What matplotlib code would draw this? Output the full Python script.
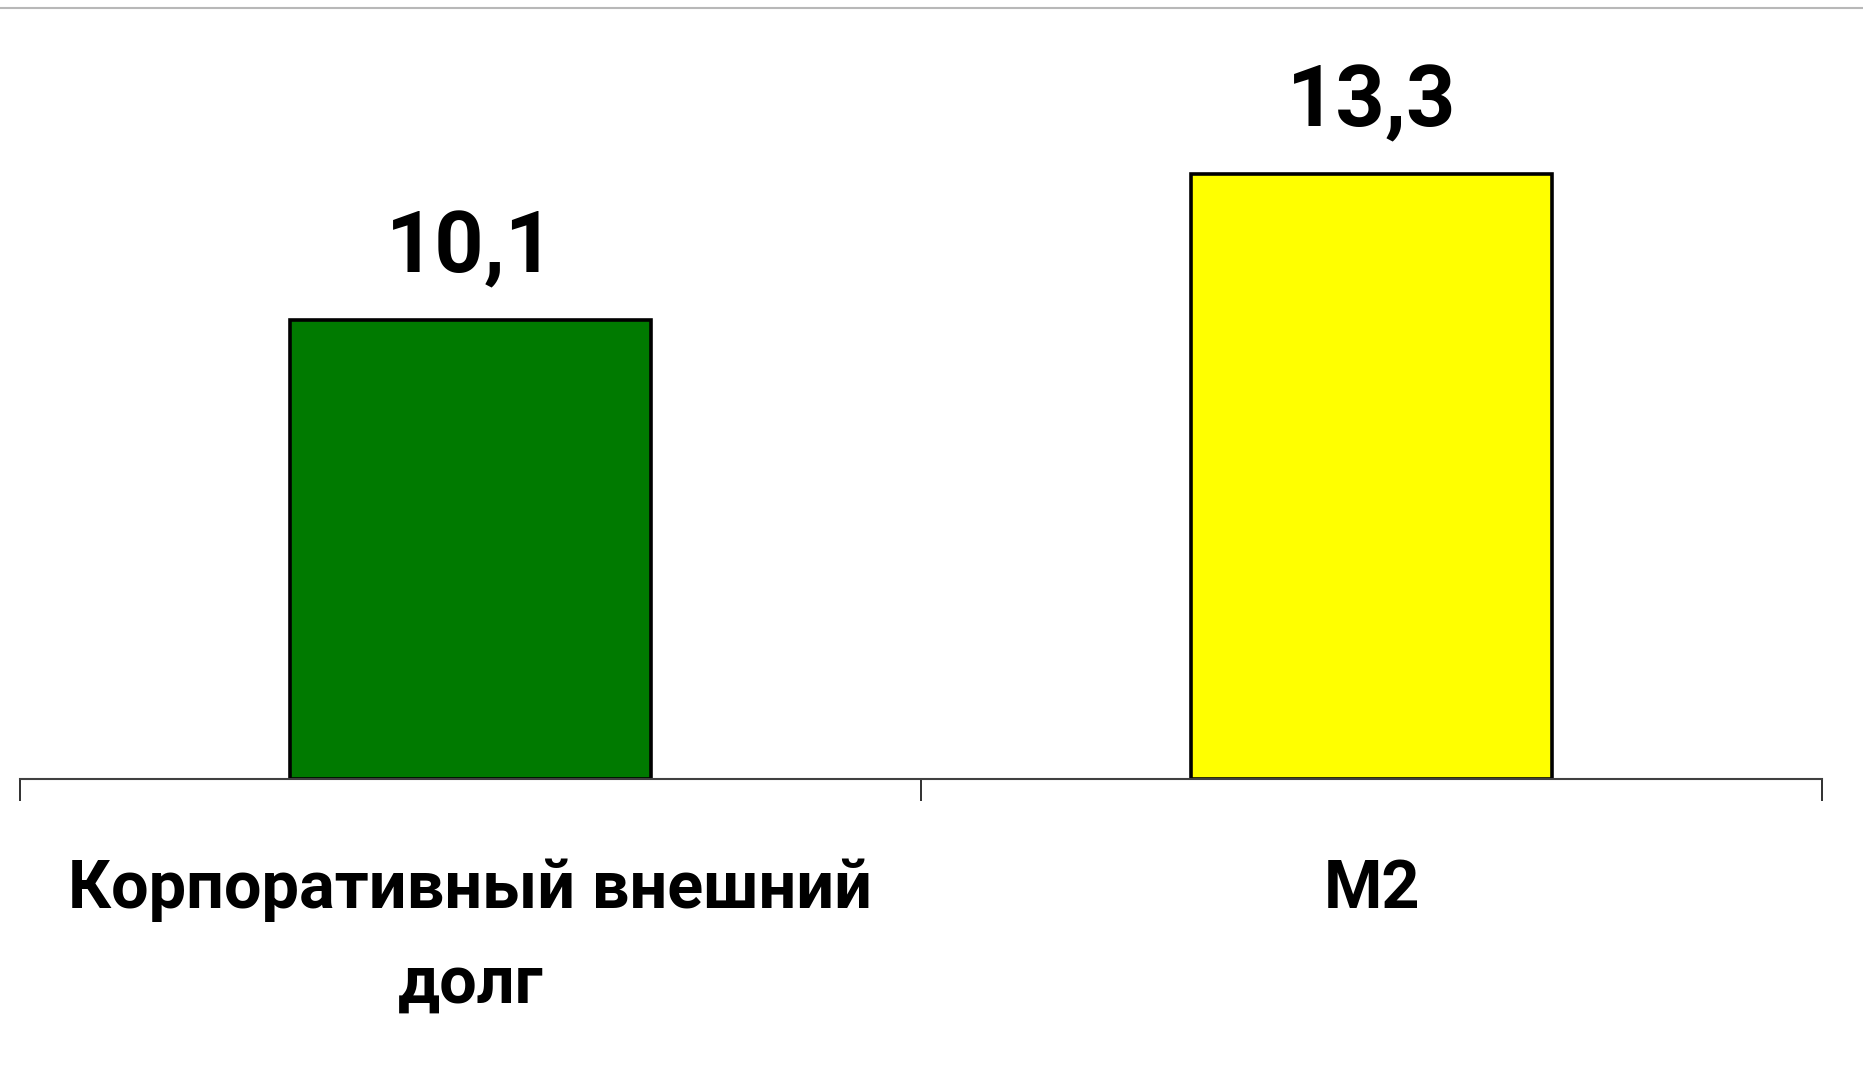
import matplotlib
matplotlib.use('Agg')
import matplotlib.pyplot as plt
from matplotlib.lines import Line2D

categories = ['Корпоративный внешний\nдолг', 'М2']
values = [10.1, 13.3]
value_labels = ['10,1', '13,3']
bar_colors = ['#007a00', '#ffff00']

fig = plt.figure(figsize=(18.63, 10.68), dpi=100)
ax = fig.add_axes([20 / 1863, 1 - 779 / 1068, 1802 / 1863, 771 / 1068])

x = range(len(categories))
bars = ax.bar(x, values, width=0.40, color=bar_colors, edgecolor='black', linewidth=2.6)

for b, lab in zip(bars, value_labels):
    ax.annotate(lab, (b.get_x() + b.get_width() / 2, b.get_height()),
                xytext=(0, 22), textcoords='offset points',
                ha='center', va='bottom', fontsize=62, fontweight='bold',
                family=['Roboto', 'DejaVu Sans'])

ax.set_xlim(-0.5, 1.5)
ax.set_ylim(0, 16.96)
ax.set_yticks([])
for s in ['left', 'right', 'top']:
    ax.spines[s].set_visible(False)
ax.spines['bottom'].set_color('#404040')
ax.spines['bottom'].set_linewidth(1.5)

# category labels
ax.set_xticks(list(x))
ax.set_xticklabels(categories, fontsize=48, fontweight='bold', linespacing=1.6,
                   family=['Roboto', 'DejaVu Sans'])
ax.tick_params(axis='x', which='major', length=0, pad=57)
# separator ticks between categories
ax.set_xticks([-0.5, 0.5, 1.5], minor=True)
ax.tick_params(axis='x', which='minor', length=16, width=1.3, color='#202020', direction='out')

# thin grey line at the top of the image
fig.add_artist(Line2D([0, 1], [1 - 8 / 1068, 1 - 8 / 1068], color='#b8b8b8', linewidth=1.5))

fig.savefig('out.png', dpi=100, facecolor='white')
